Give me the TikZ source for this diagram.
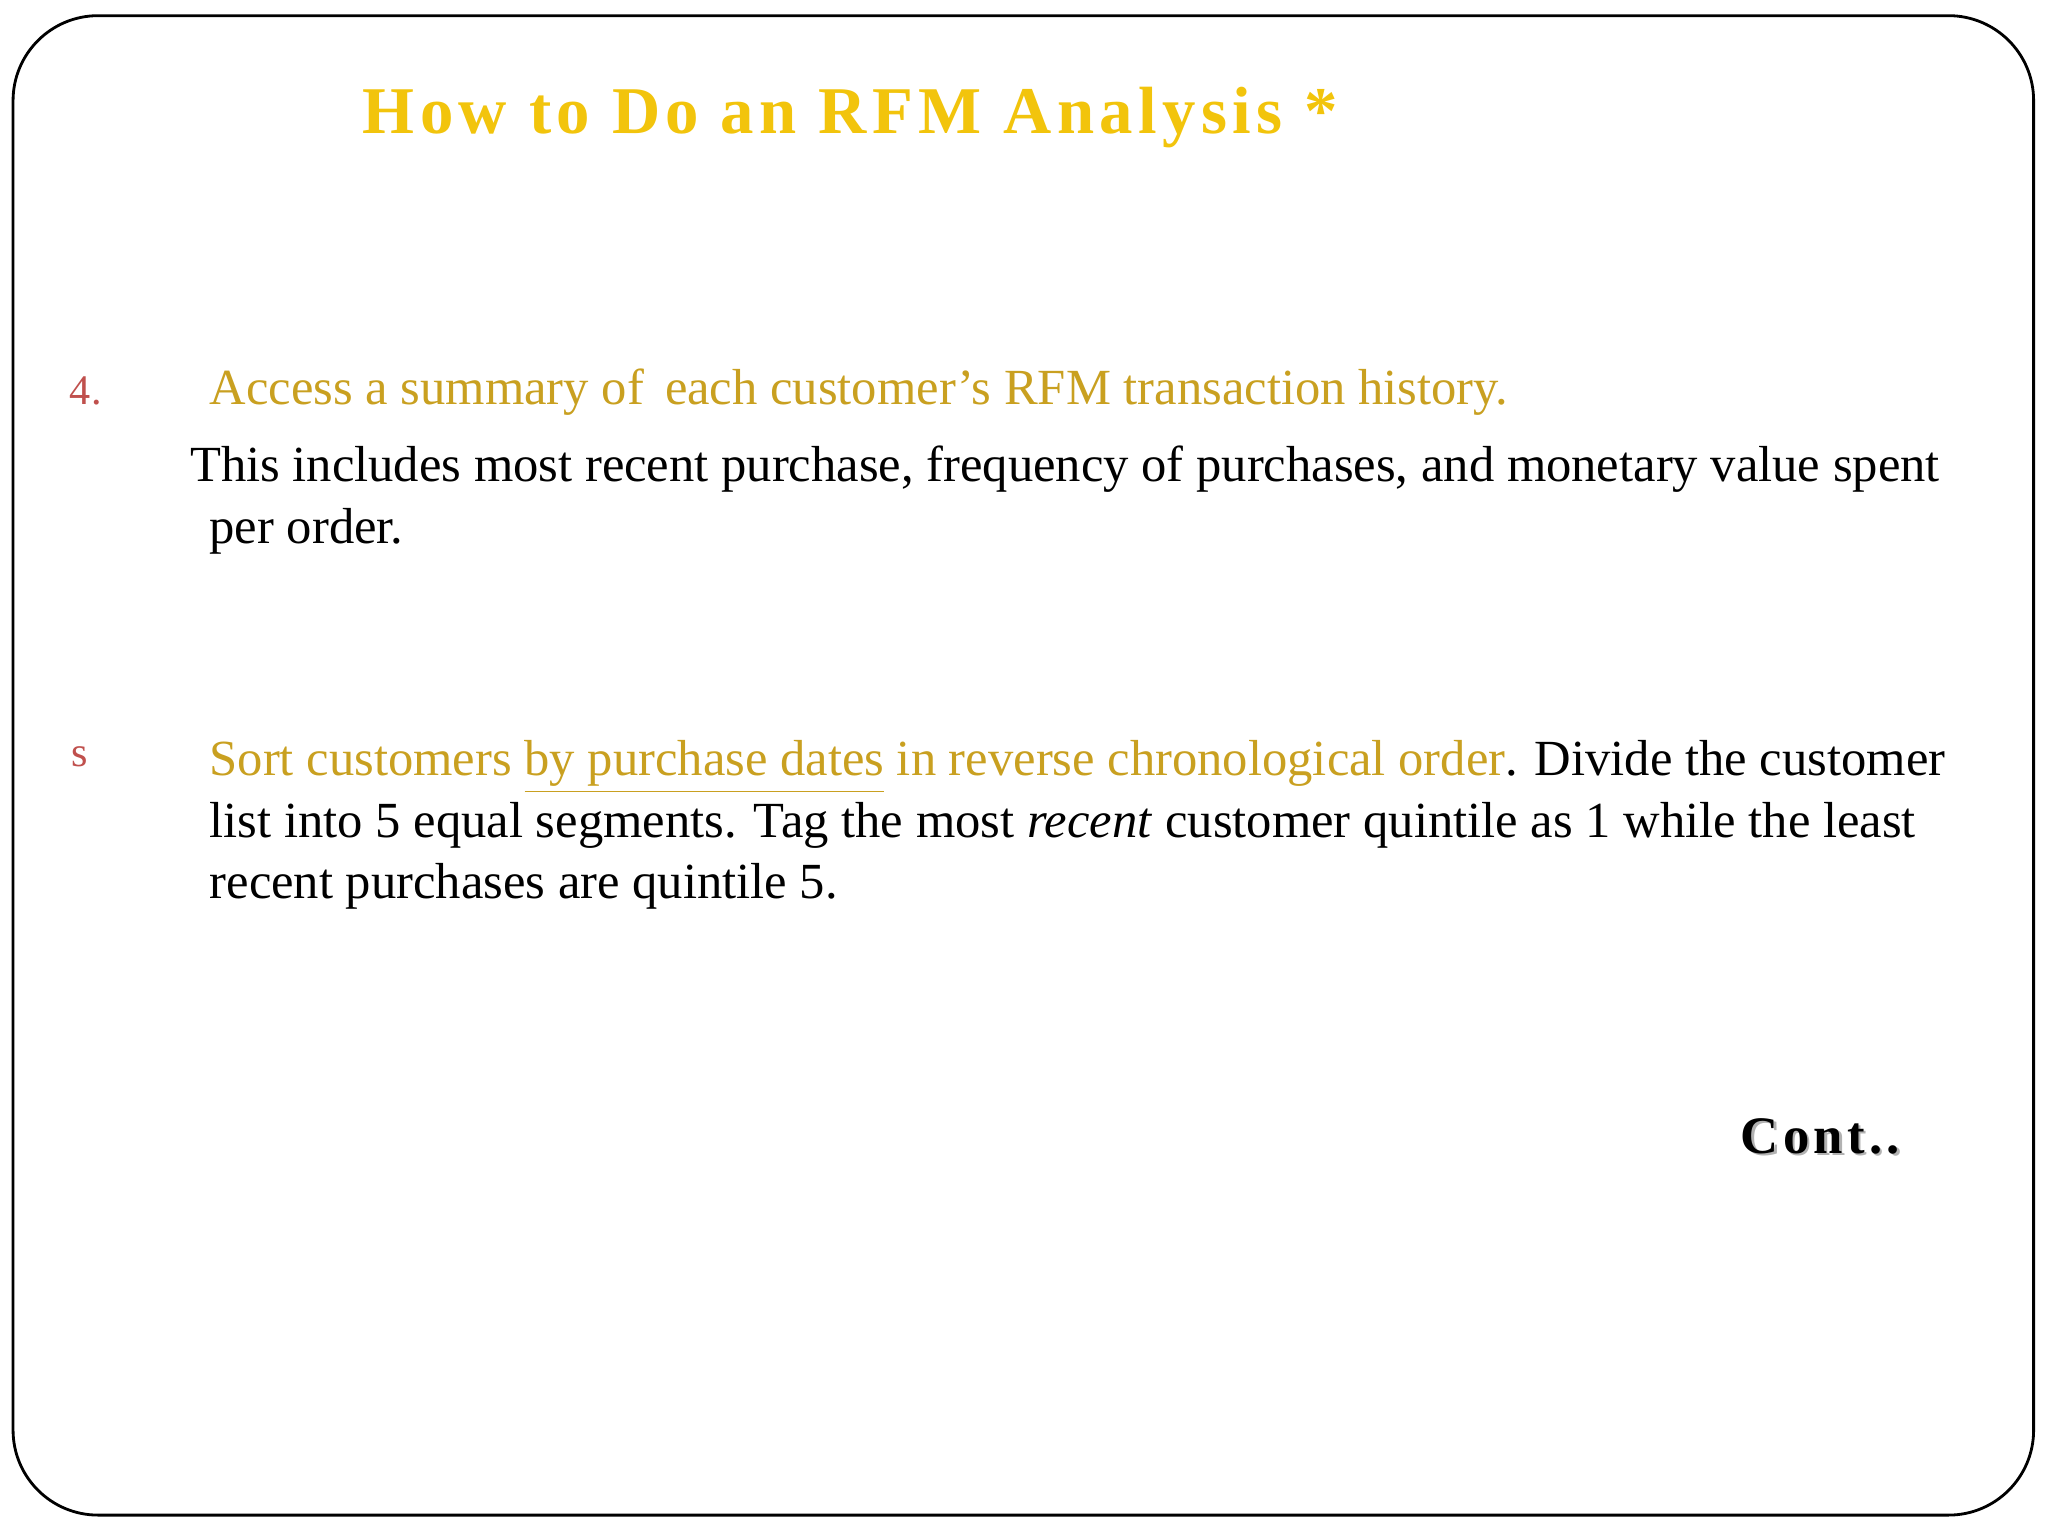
\documentclass[tikz,border=0pt]{standalone}
\usepackage{fontspec}
\setmainfont{Liberation Serif}
\newfontfamily\titlefont[LetterSpace=8]{Liberation Serif}
\definecolor{titlegold}{HTML}{F2C40C}
\definecolor{bodygold}{HTML}{C9A020}
\definecolor{numred}{HTML}{C0504D}
\newcommand{\goldul}[1]{\textcolor{bodygold}{\underline{\textcolor{bodygold}{#1}}}}
\begin{document}
\begin{tikzpicture}[x=0.013061cm,y=-0.013061cm,
  body/.style={anchor=base west,inner sep=0pt,font=\fontsize{14.4}{17}\selectfont},
  num/.style={anchor=base west,inner sep=0pt,text=numred,font=\fontsize{12}{14}\selectfont}]
\useasboundingbox (0,0) rectangle (1568,1176);
\fill[white] (0,0) rectangle (1568,1176);
\draw[black,line width=0.8pt,rounded corners=0.85cm] (10,12) rectangle (1557,1160);
\node[anchor=base,inner sep=0pt,text=titlegold,font=\titlefont\bfseries\fontsize{19}{22}\selectfont] (title) at (651,102) {How to Do an RFM Analysis *};
\node[num] (n4) at (53,310) {4.};
\node[body,text=bodygold] (l1) at (160,310) {Access a summary of\, each customer’s RFM transaction history.};
\node[body] (l2) at (145,369) {This includes most recent purchase, frequency of purchases, and monetary value spent};
\node[body] (l3) at (160,416) {per order.};
\node[num] (ns) at (54,587) {s};
\node[body] (l4) at (160,594) {\color{bodygold}Sort customers \underline{by purchase dates} in reverse chronological order\color{black}. Divide the customer};
\node[body] (l5) at (160,641) {list into 5 equal segments. Tag the most \textit{recent} customer quintile as 1 while the least};
\node[body] (l6) at (160,688) {recent purchases are quintile 5.};
\node[anchor=base east,inner sep=0pt,text=gray!60,font=\titlefont\bfseries\fontsize{15}{18}\selectfont] (cs) at (1457,885) {Cont..};
\node[anchor=base east,inner sep=0pt,font=\titlefont\bfseries\fontsize{15}{18}\selectfont] (c) at (1455,883) {Cont..};
\end{tikzpicture}
\end{document}
